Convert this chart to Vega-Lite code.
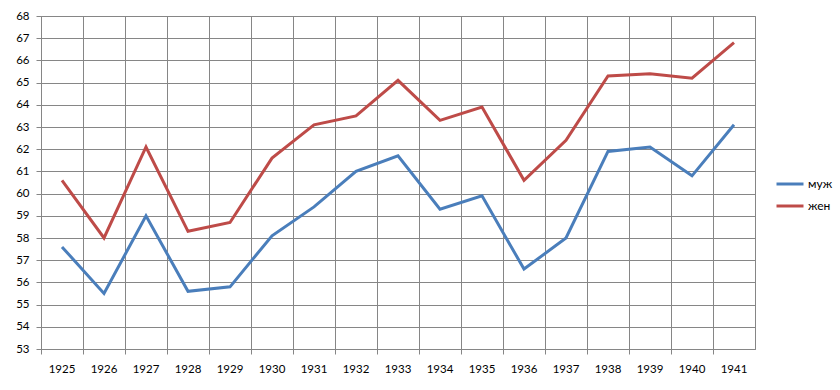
{
  "$schema": "https://vega.github.io/schema/vega-lite/v6.json",
  "width": 714,
  "height": 333,
  "autosize": {"type": "none"},
  "padding": {"left": 41, "top": 16, "right": 85, "bottom": 41},
  "background": "white",
  "config": {
    "view": {"stroke": "#868686", "strokeWidth": 1},
    "font": "Lato"
  },
  "data": {
    "values": [
      {"year": "1925", "series": "муж", "value": 57.6},
      {"year": "1926", "series": "муж", "value": 55.5},
      {"year": "1927", "series": "муж", "value": 59.0},
      {"year": "1928", "series": "муж", "value": 55.6},
      {"year": "1929", "series": "муж", "value": 55.8},
      {"year": "1930", "series": "муж", "value": 58.1},
      {"year": "1931", "series": "муж", "value": 59.4},
      {"year": "1932", "series": "муж", "value": 61.0},
      {"year": "1933", "series": "муж", "value": 61.7},
      {"year": "1934", "series": "муж", "value": 59.3},
      {"year": "1935", "series": "муж", "value": 59.9},
      {"year": "1936", "series": "муж", "value": 56.6},
      {"year": "1937", "series": "муж", "value": 58.0},
      {"year": "1938", "series": "муж", "value": 61.9},
      {"year": "1939", "series": "муж", "value": 62.1},
      {"year": "1940", "series": "муж", "value": 60.8},
      {"year": "1941", "series": "муж", "value": 63.1},
      {"year": "1925", "series": "жен", "value": 60.6},
      {"year": "1926", "series": "жен", "value": 58.0},
      {"year": "1927", "series": "жен", "value": 62.1},
      {"year": "1928", "series": "жен", "value": 58.3},
      {"year": "1929", "series": "жен", "value": 58.7},
      {"year": "1930", "series": "жен", "value": 61.6},
      {"year": "1931", "series": "жен", "value": 63.1},
      {"year": "1932", "series": "жен", "value": 63.5},
      {"year": "1933", "series": "жен", "value": 65.1},
      {"year": "1934", "series": "жен", "value": 63.3},
      {"year": "1935", "series": "жен", "value": 63.9},
      {"year": "1936", "series": "жен", "value": 60.6},
      {"year": "1937", "series": "жен", "value": 62.4},
      {"year": "1938", "series": "жен", "value": 65.3},
      {"year": "1939", "series": "жен", "value": 65.4},
      {"year": "1940", "series": "жен", "value": 65.2},
      {"year": "1941", "series": "жен", "value": 66.8}
    ]
  },
  "mark": {"type": "line", "strokeWidth": 3, "strokeJoin": "miter"},
  "encoding": {
    "x": {
      "field": "year",
      "type": "ordinal",
      "scale": {"type": "band", "paddingInner": 0, "paddingOuter": 0},
      "axis": {
        "title": null,
        "bandPosition": 0,
        "labelAngle": 0,
        "grid": true,
        "gridColor": "#868686",
        "gridOpacity": 1,
        "domainColor": "#868686",
        "tickColor": "#868686",
        "tickSize": 5,
        "labelPadding": 9,
        "labelFontSize": 11.5,
        "labelColor": "#000000",
        "labelFont": "Lato"
      }
    },
    "y": {
      "field": "value",
      "type": "quantitative",
      "scale": {"domain": [53, 68], "nice": false, "zero": false},
      "axis": {
        "title": null,
        "values": [53, 54, 55, 56, 57, 58, 59, 60, 61, 62, 63, 64, 65, 66, 67, 68],
        "grid": true,
        "gridColor": "#868686",
        "gridOpacity": 1,
        "domainColor": "#868686",
        "tickColor": "#868686",
        "tickSize": 5,
        "labelPadding": 7,
        "labelFontSize": 11.5,
        "labelColor": "#000000",
        "labelFont": "Lato"
      }
    },
    "color": {
      "field": "series",
      "type": "nominal",
      "scale": {"domain": ["муж", "жен"], "range": ["#4A7EBB", "#BE4B48"]},
      "legend": {
        "title": null,
        "orient": "none",
        "legendX": 734,
        "legendY": 153,
        "symbolType": "stroke",
        "symbolSize": 729,
        "symbolStrokeWidth": 3,
        "rowPadding": 1,
        "labelFontSize": 12,
        "labelColor": "#000000",
        "labelOffset": 3,
        "labelFont": "Lato"
      }
    }
  }
}
